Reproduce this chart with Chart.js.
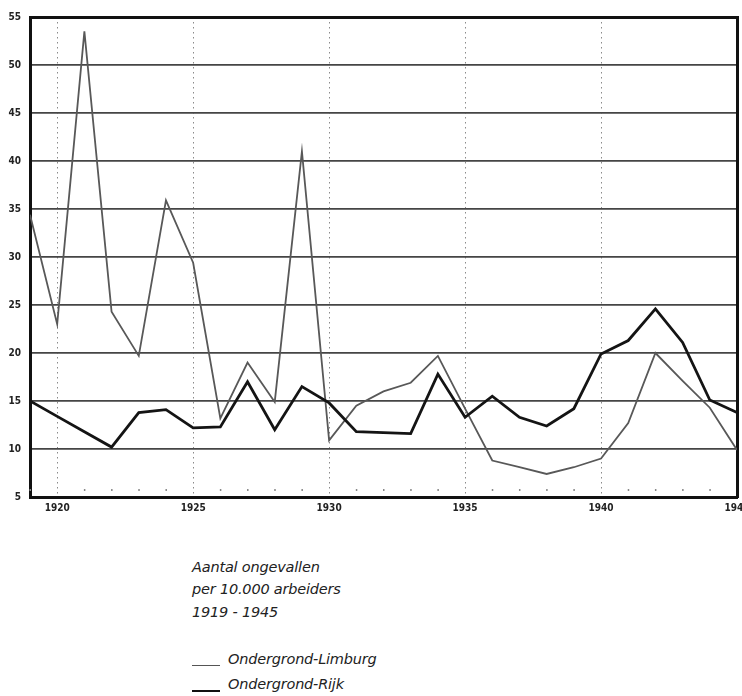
<!DOCTYPE html>
<html>
<head>
<meta charset="utf-8">
<script src="https://cdn.jsdelivr.net/npm/chart.js@4.4.1/dist/chart.umd.min.js"></script>
<style>
  html, body { margin: 0; padding: 0; background: #fff; overflow: hidden; width: 742px; height: 696px; }
  #wrap { position: absolute; left: 0; top: 0; width: 760px; height: 530px; }
  .txt { position: absolute; left: 192px; font-family: "DejaVu Sans", sans-serif; font-style: italic; font-size: 14.5px; color: #222; white-space: nowrap; letter-spacing: -0.2px; }
  .leg { position: absolute; left: 192px; width: 28px; }
</style>
</head>
<body>
<div id="wrap"><canvas id="myChart" width="760" height="530"></canvas></div>

<div class="txt" style="top:559px">Aantal ongevallen</div>
<div class="txt" style="top:581px">per 10.000 arbeiders</div>
<div class="txt" style="top:604px">1919 - 1945</div>

<div class="leg" style="top:665px; border-top:1.5px solid #555"></div>
<div class="txt" style="top:651px; left:228px">Ondergrond-Limburg</div>
<div class="leg" style="top:690px; border-top:2.5px solid #111"></div>
<div class="txt" style="top:676px; left:228px">Ondergrond-Rijk</div>

<script>
// jaren en waarden
const years = [1919, 1920, 1921, 1922, 1923, 1924, 1925, 1926, 1927, 1928, 1929, 1930, 1931,
  1932, 1933, 1934, 1935, 1936, 1937, 1938, 1939, 1940, 1941, 1942, 1943, 1944, 1945];

const limburg = [34.4, 23, 53.5, 24.3, 19.7, 35.9, 29.4, 13.2, 19, 14.9, 41, 10.9, 14.5,
  16, 16.9, 19.7, 14.2, 8.8, 8.1, 7.4, 8.1, 9, 12.7, 20, 17.1, 14.3, 9.9];

const rijk = [15, 13.4, 11.8, 10.2, 13.8, 14.1, 12.2, 12.3, 17, 12, 16.5, 14.8, 11.8,
  11.7, 11.6, 17.8, 13.3, 15.5, 13.3, 12.4, 14.2, 19.9, 21.3, 24.6, 21.1, 15.1, 13.8];

const yTicks = [5, 10, 15, 20, 25, 30, 35, 40, 45, 50, 55];

const tickFont = { family: '"Liberation Sans Narrow", "DejaVu Sans Condensed", sans-serif', size: 10, weight: 'bold' };

// kleine streepjes per jaar onderaan
const minorTicks = {
  id: 'minorTicks',
  afterDraw(chart) {
    const x = chart.scales.x;
    const ctx = chart.ctx;
    const bottom = chart.chartArea.bottom;
    ctx.save();
    ctx.fillStyle = '#888';
    years.forEach(y => {
      if (y % 5 === 0) return;
      ctx.fillRect(x.getPixelForValue(y) - 0.5, bottom - 8, 1.5, 2);
    });
    ctx.restore();
  }
};

const ctx = document.getElementById("myChart");

new Chart(ctx, {
  type: "line",
  data: {
    datasets: [
      {
        label: "Ondergrond-Rijk",
        data: years.map((y, i) => ({ x: y, y: rijk[i] })),
        borderColor: "#141414",
        borderWidth: 2.8,
        pointRadius: 0,
        tension: 0,
      },
      {
        label: "Ondergrond-Limburg",
        data: years.map((y, i) => ({ x: y, y: limburg[i] })),
        borderColor: "#585858",
        borderWidth: 1.8,
        pointRadius: 0,
        tension: 0,
      },
    ],
  },
  options: {
    responsive: false,
    animation: false,
    layout: { padding: { top: 17, right: 23, left: 0, bottom: 0 } },
    plugins: { legend: { display: false }, tooltip: { enabled: false } },
    scales: {
      x: {
        type: 'linear',
        min: 1919,
        max: 1945,
        afterBuildTicks: (scale) => { scale.ticks = years.map(v => ({ value: v })); },
        ticks: {
          autoSkip: false,
          maxRotation: 0,
          padding: 5,
          color: '#222',
          font: tickFont,
          callback: (v) => (v % 5 === 0 ? String(v) : ''),
        },
        grid: {
          drawTicks: false,
          lineWidth: 1,
          color: (c) => (c.tick && c.tick.value % 5 === 0 && c.tick.value !== 1945 ? '#8a8a8a' : 'rgba(0,0,0,0)'),
        },
        border: { display: true, color: '#111', width: 3, dash: [1.5, 3.5] },
        afterFit: (scale) => { scale.height = 33; scale.paddingLeft = 0; scale.paddingRight = 0; },
      },
      y: {
        min: 5,
        max: 55,
        afterBuildTicks: (scale) => { scale.ticks = yTicks.map(v => ({ value: v })); },
        ticks: { padding: 9, color: '#222', font: tickFont },
        grid: {
          drawTicks: false,
          color: (c) => (c.tick && c.tick.value === 55 ? '#111' : c.tick && c.tick.value === 5 ? 'rgba(0,0,0,0)' : '#454545'),
          lineWidth: (c) => (c.tick && c.tick.value === 55 ? 3 : 1.7),
        },
        border: { display: true, color: '#111', width: 3 },
        afterFit: (scale) => { scale.width = 30; scale.paddingTop = 0; scale.paddingBottom = 0; },
      },
      yr: {
        position: 'right',
        display: true,
        ticks: { display: false },
        grid: { display: false },
        border: { display: true, color: '#111', width: 3 },
        afterFit: (scale) => { scale.width = 0; },
      },
    },
  },
  plugins: [minorTicks],
});
</script>
</body>
</html>
